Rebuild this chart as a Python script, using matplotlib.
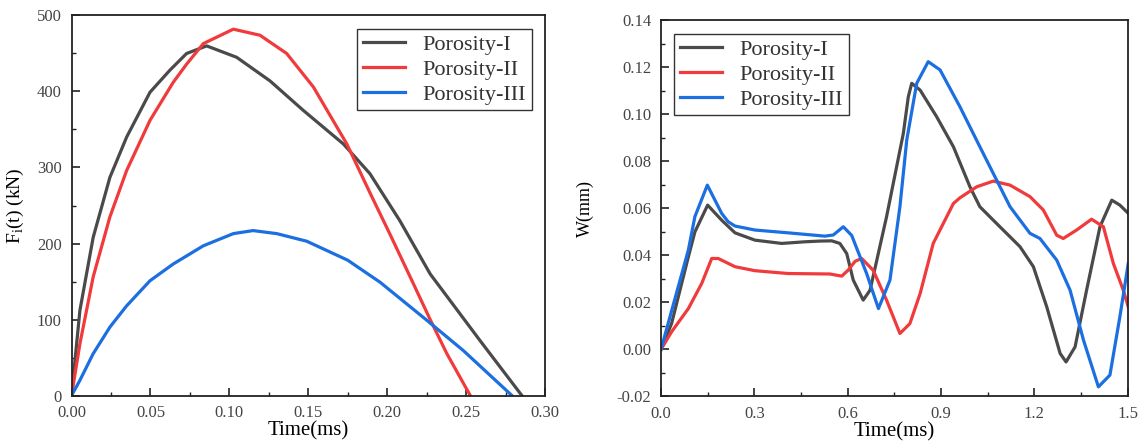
import numpy as np
import matplotlib
matplotlib.use('Agg')
import matplotlib.pyplot as plt
from matplotlib.ticker import MultipleLocator, FormatStrFormatter

# left panel: impact force F_i(t)
t1_I = [0, 0.0053, 0.0137, 0.0243, 0.0349, 0.0497, 0.0623, 0.0729, 0.0856, 0.1046,
        0.1257, 0.1469, 0.1722, 0.189, 0.208, 0.2272, 0.2589, 0.2853]
f_I = [0, 112, 208, 287, 340, 399, 428, 450, 460, 445, 414, 375, 331, 292, 230,
       160, 72, 0]

t1_II = [0, 0.0053, 0.0137, 0.0243, 0.0349, 0.0497, 0.0644, 0.0729, 0.0835, 0.1025,
         0.1194, 0.1363, 0.1532, 0.1744, 0.189, 0.2018, 0.2166, 0.2272, 0.2378, 0.2526]
f_II = [0, 68, 156, 235, 296, 362, 412, 436, 463, 482, 474, 450, 406, 331, 267, 212,
        147, 100, 55, 0]

t1_III = [0, 0.0053, 0.0137, 0.0243, 0.0349, 0.0497, 0.0644, 0.0835, 0.1025, 0.115,
          0.13, 0.149, 0.175, 0.1955, 0.2251, 0.2483, 0.279]
f_III = [0, 20, 55, 90, 118, 151, 173, 197, 213, 217, 213, 203, 178, 149, 99, 59, 0]

# right panel: deflection W
t2_I = [0, 0.034, 0.088, 0.109, 0.15, 0.195, 0.238, 0.302, 0.388, 0.463, 0.511, 0.549,
        0.575, 0.597, 0.618, 0.650, 0.672, 0.725, 0.779, 0.795, 0.806, 0.833, 0.886,
        0.94, 0.993, 1.025, 1.068, 1.154, 1.197, 1.240, 1.283, 1.302, 1.331, 1.368,
        1.411, 1.449, 1.475, 1.502]
w_I = [0, 0.011, 0.0394, 0.05, 0.0614, 0.055, 0.0496, 0.0465, 0.0451, 0.0458, 0.0461,
       0.0462, 0.0451, 0.0408, 0.0295, 0.021, 0.0252, 0.0564, 0.0919, 0.1075, 0.1132,
       0.1103, 0.099, 0.0862, 0.0692, 0.0607, 0.055, 0.0437, 0.0352, 0.0181, -0.0017,
       -0.0053, 0.0011, 0.0252, 0.0522, 0.0635, 0.0614, 0.0579]

t2_II = [0, 0.034, 0.088, 0.131, 0.163, 0.184, 0.238, 0.302, 0.409, 0.543, 0.581,
         0.602, 0.624, 0.645, 0.682, 0.725, 0.768, 0.800, 0.833, 0.875, 0.94, 0.961,
         1.015, 1.068, 1.122, 1.186, 1.229, 1.272, 1.293, 1.336, 1.384, 1.422, 1.454,
         1.486, 1.502]
w_II = [0, 0.0075, 0.0174, 0.0281, 0.0387, 0.0387, 0.0352, 0.0335, 0.0323, 0.0321,
        0.0312, 0.0338, 0.0375, 0.0387, 0.0337, 0.021, 0.0068, 0.011, 0.0238, 0.0451,
        0.0621, 0.0645, 0.0692, 0.0716, 0.0699, 0.065, 0.0593, 0.0486, 0.0472, 0.0508,
        0.0554, 0.0522, 0.0366, 0.0252, 0.0181]

t2_III = [0, 0.088, 0.109, 0.149, 0.195, 0.216, 0.238, 0.302, 0.409, 0.527, 0.554,
          0.586, 0.613, 0.661, 0.699, 0.736, 0.768, 0.79, 0.822, 0.859, 0.897, 0.961,
          1.025, 1.122, 1.186, 1.218, 1.272, 1.315, 1.358, 1.406, 1.443, 1.475, 1.502]
w_III = [0, 0.0423, 0.0565, 0.0699, 0.0579, 0.0543, 0.0525, 0.0508, 0.0496, 0.0482,
         0.0487, 0.0522, 0.0485, 0.0323, 0.0174, 0.0295, 0.0607, 0.0891, 0.1132, 0.1224,
         0.1189, 0.1032, 0.0862, 0.0607, 0.0494, 0.0472, 0.038, 0.0252, 0.004, -0.0159,
         -0.0109, 0.0139, 0.0366]

labels = ['Porosity-I', 'Porosity-II', 'Porosity-III']
colors = ['#4a4a4a', '#f03a3c', '#1b6fe0']

plt.rcParams['font.family'] = ['Liberation Serif', 'DejaVu Serif']
plt.rcParams['mathtext.fontset'] = 'custom'
plt.rcParams['mathtext.rm'] = 'Liberation Serif'

fig = plt.figure(figsize=(11.41, 4.45), dpi=100)
ax1 = fig.add_axes([0.0627, 0.1112, 0.415, 0.854])
ax2 = fig.add_axes([0.5793, 0.109, 0.409, 0.8454])

for t, y, lab, c in zip([t1_I, t1_II, t1_III], [f_I, f_II, f_III], labels, colors):
    ax1.plot(t, y, color=c, lw=2.3, label=lab, solid_joinstyle='round')
for t, y, lab, c in zip([t2_I, t2_II, t2_III], [w_I, w_II, w_III], labels, colors):
    ax2.plot(t, y, color=c, lw=2.3, label=lab, solid_joinstyle='round')

ax1.set_xlim(0, 0.30)
ax1.set_ylim(0, 500)
ax1.xaxis.set_major_locator(MultipleLocator(0.05))
ax1.xaxis.set_minor_locator(MultipleLocator(0.025))
ax1.yaxis.set_major_locator(MultipleLocator(100))
ax1.yaxis.set_minor_locator(MultipleLocator(50))
ax1.xaxis.set_major_formatter(FormatStrFormatter('%.2f'))
ax1.set_xlabel('Time(ms)', fontsize=15, labelpad=0)
ax1.set_ylabel(r'F$_\mathrm{i}$(t) (kN)', fontsize=14, labelpad=8)

ax2.set_xlim(0, 1.5)
ax2.set_ylim(-0.02, 0.14)
ax2.xaxis.set_major_locator(MultipleLocator(0.3))
ax2.xaxis.set_minor_locator(MultipleLocator(0.15))
ax2.yaxis.set_major_locator(MultipleLocator(0.02))
ax2.yaxis.set_minor_locator(MultipleLocator(0.01))
ax2.xaxis.set_major_formatter(FormatStrFormatter('%.1f'))
ax2.yaxis.set_major_formatter(FormatStrFormatter('%.2f'))
ax2.set_xlabel('Time(ms)', fontsize=15, labelpad=0)
ax2.set_ylabel('W(mm)', fontsize=13, labelpad=16)

for ax in (ax1, ax2):
    for s in ax.spines.values():
        s.set_linewidth(1.3)
        s.set_color('#222222')
    ax.tick_params(which='both', direction='in', top=False, right=False,
                   labelsize=12, colors='#222222', labelcolor='#444444')
    ax.tick_params(which='major', length=6, width=1.2)
    ax.tick_params(which='minor', length=3, width=1.0)
    ax.tick_params(axis='x', which='major', pad=7)
    ax.tick_params(axis='y', which='major', pad=7)

leg_kw = dict(fontsize=16, frameon=True, fancybox=False, framealpha=1,
              edgecolor='#333333', handlelength=1.9, borderpad=0.25,
              labelspacing=0.2, handletextpad=0.8, borderaxespad=0.6)
l1 = ax1.legend(loc='upper right', **leg_kw)
l2 = ax2.legend(loc='upper left', **leg_kw)
for leg in (l1, l2):
    leg.get_frame().set_linewidth(1.0)
    for txt in leg.get_texts():
        txt.set_color('#333333')

fig.savefig('out.png', dpi=100)
